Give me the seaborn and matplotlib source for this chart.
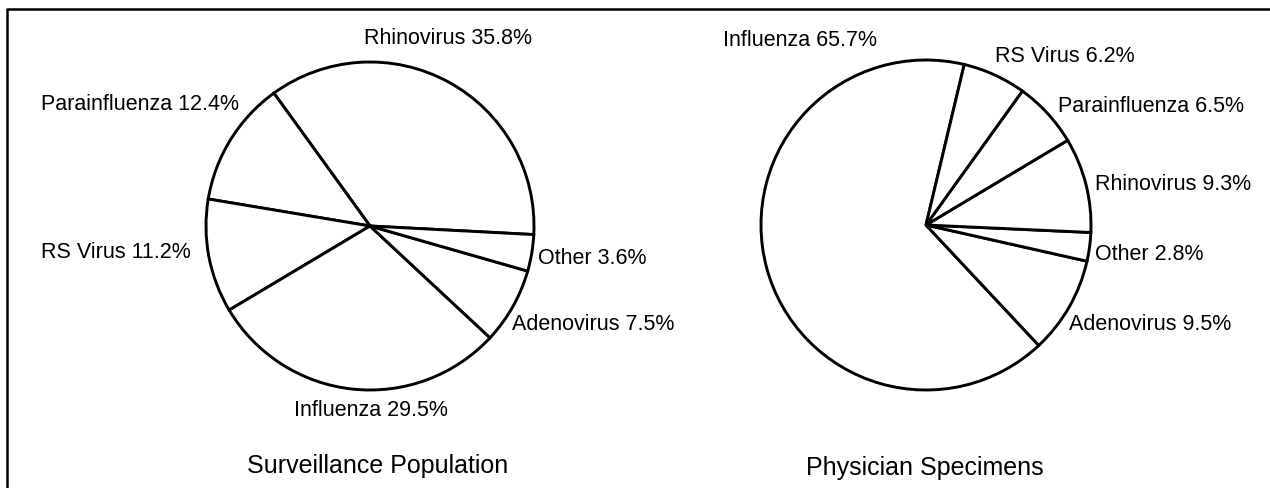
import numpy as np
import matplotlib
matplotlib.use("Agg")
import matplotlib.pyplot as plt
import seaborn as sns

# --- data ---------------------------------------------------------------------
surv_names = ["Rhinovirus", "Parainfluenza", "RS Virus", "Influenza", "Adenovirus", "Other"]
surv_pct = [35.8, 12.4, 11.2, 29.5, 7.5, 3.6]

phys_names = ["Influenza", "Adenovirus", "Other", "Rhinovirus", "Parainfluenza", "RS Virus"]
phys_pct = [65.7, 9.5, 2.8, 9.3, 6.5, 6.2]

titles = ["Surveillance Population", "Physician Specimens"]

# --- layout (pixel coords, origin top-left) -----------------------------------
W, H = 1270, 488
surv_lab = {  # name: (x, y, ha)
    "Rhinovirus": (448, 38, "center"), "Parainfluenza": (239, 105, "right"),
    "RS Virus": (191, 253, "right"), "Influenza": (371, 411, "center"),
    "Adenovirus": (512, 325, "left"), "Other": (538, 258, "left"),
}
phys_lab = {
    "Influenza": (800, 41, "center"), "RS Virus": (995, 57, "left"),
    "Parainfluenza": (1058, 106, "left"), "Rhinovirus": (1095, 184, "left"),
    "Other": (1095, 254, "left"), "Adenovirus": (1069, 325, "left"),
}

sns.set_theme(style="white")
plt.rcParams["font.family"] = ["Liberation Sans", "DejaVu Sans"]

fig = plt.figure(figsize=(W / 100, H / 100), dpi=100)
ax = fig.add_axes([0, 0, 1, 1])

pies = [
    (surv_names, surv_pct, (370, 226), 164, -3.0, surv_lab, (378, 466)),
    (phys_names, phys_pct, (926, 225), 165, 76.6, phys_lab, (925, 468)),
]
for (names, pct, (cx, cy), r, start, labs, tpos), title in zip(pies, titles):
    ax.pie(pct, colors=["white"] * len(pct), startangle=start, radius=r,
           center=(cx, H - cy), frame=True,
           wedgeprops=dict(edgecolor="black", linewidth=2.1))
    for n, v in zip(names, pct):
        x, y, ha = labs[n]
        ax.text(x, H - y, f"{n} {v}%", ha=ha, va="center", fontsize=15.5, color="black")
    ax.text(tpos[0], H - tpos[1], title, ha="center", va="center", fontsize=18, color="black")

ax.set_xlim(0, W)
ax.set_ylim(0, H)
ax.set_aspect("equal")
ax.axis("off")

# frame lines (left and top only, as in the scan)
ax.plot([7, 7, W], [0, H - 9, H - 9], color="black", lw=1.8, clip_on=False)

fig.savefig("out.png", dpi=100, facecolor="white")
